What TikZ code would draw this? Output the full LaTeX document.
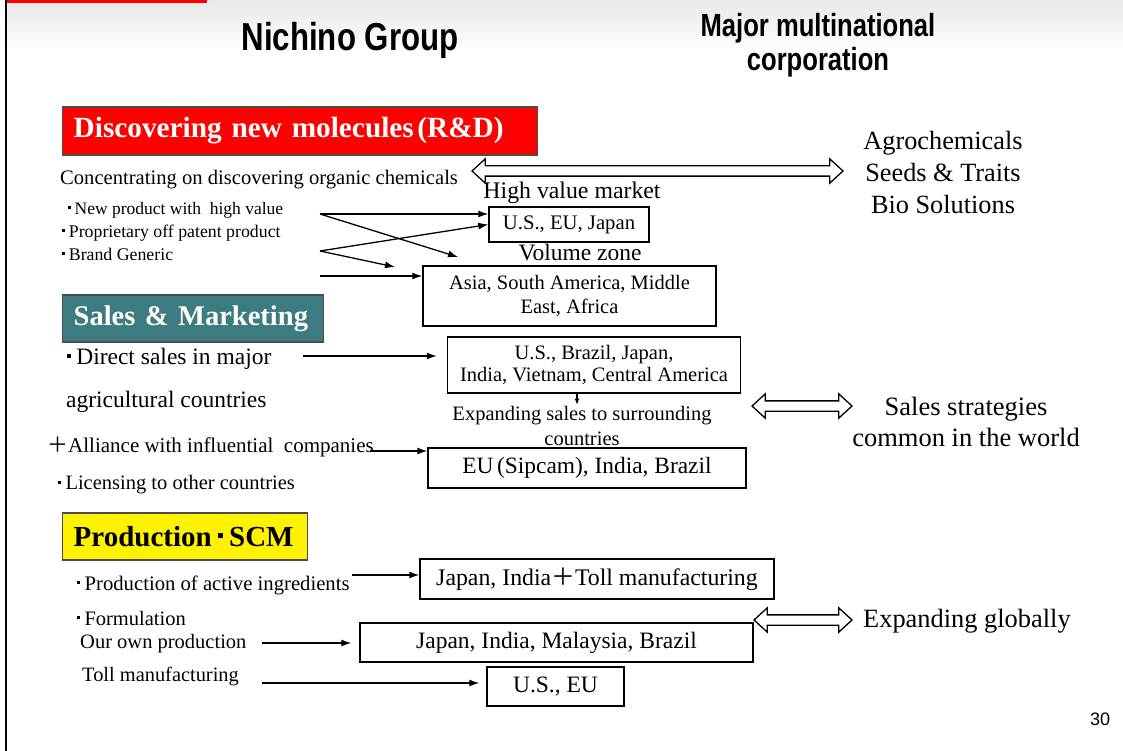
\documentclass[tikz,border=0pt]{standalone}
\usepackage{fontspec}
\setmainfont{Liberation Serif}
\newfontfamily\headfont[FakeStretch=0.8]{Liberation Sans}
\newfontfamily\pgnumfont{Liberation Sans}
\newfontfamily\cjk{Noto Sans CJK JP}
\usepackage{tikz}
\usetikzlibrary{arrows.meta, positioning, shapes.arrows}
\tikzset{>={Latex[length=10pt,width=7pt]}}

\definecolor{teal1}{RGB}{60,123,128}
\newcommand{\fsz}[2]{\fontsize{#1}{#2}\selectfont}
\newcommand{\ndot}{\makebox[0.6em]{\rule[0.28em]{0.17em}{0.17em}}}
\newcommand{\zplus}{{\cjk ＋}}

\tikzset{
  box/.style={draw, line width=1.4pt, inner sep=0pt, align=center},
  title/.style={draw=black!70, line width=1.4pt, anchor=west, inner xsep=11pt, align=left},
  lbl/.style={anchor=west, inner sep=0pt},
  conn/.style={->, line width=1.3pt},
  hollow/.style={double arrow, draw, fill=white, line width=1.3pt, inner xsep=0pt, inner ysep=4.5pt,
                 double arrow head extend=7pt, double arrow tip angle=85},
}

\begin{document}
\begin{tikzpicture}[x=1pt, y=-1pt]
    \useasboundingbox (0,0) rectangle (1123,751);
    % slide frame
    \shade[top color=black!9, bottom color=white] (7,0) rectangle (1123,50);
    \fill[red] (6,0) rectangle (207,3);
    \draw[line width=2pt] (6,0) -- (6,751);

    \node	(grp)	at	(350,40)	{\headfont\bfseries\fsz{39}{44}Nichino Group};
    \node	(mnc)	[align=center, font=\headfont\bfseries\fsz{32}{34}]	at	(818,45)	{Major multinational\\corporation};

    % R&D
    \node	(rd)	[title, fill=red, text=white, minimum height=48pt, text width=453pt, font=\bfseries\fsz{29.3}{34}]	at	(62,131)	{Discovering new molecules\hspace{0.12em}(R\&D)};
    \node	(conc)	[lbl, font=\fsz{20.6}{23}]	at	(60,180)	{Concentrating on discovering organic chemicals};
    \node	(nb1)	[lbl, font=\fsz{17.5}{20}]	at	(64,210)	{\ndot New product with\ \ high value};
    \node	(nb2)	[lbl, font=\fsz{17.8}{20}]	at	(58,233)	{\ndot Proprietary off patent product};
    \node	(nb3)	[lbl, font=\fsz{17.8}{20}]	at	(58,254)	{\ndot Brand Generic};
    \node	(high)	[font=\fsz{23.8}{26}]	at	(572,193)	{High value market};
    \node	(us)	[box, minimum width=160pt, minimum height=35pt, font=\fsz{20.7}{23}]	at	(569,224.5)	{U.S., EU, Japan};
    \node	(vol)	[font=\fsz{23.5}{26}]	at	(580,253)	{Volume zone};
    \node	(asia)	[box, minimum width=293pt, minimum height=60pt, font=\fsz{20.5}{24}]	at	(569.5,296)	{Asia, South America, Middle\\East, Africa};
    \node	(agro)	[align=center, font=\fsz{26.3}{32}]	at	(943,173)	{Agrochemicals\\Seeds \& Traits\\Bio Solutions};

    \coordinate (rdA) at (320,214);
    \coordinate (rdB) at (320,251);
    \coordinate (rdC) at (320,276);
    \coordinate (volA) at (458,257);
    \coordinate (volB) at (395,267);
    \draw[conn] (rdA) -- (rdA -| us.west);
    \draw[conn] (rdA) -- (volA);
    \draw[conn] (rdB) -- (us.west);
    \draw[conn] (rdB) -- (volB);
    \draw[conn] (rdC) -- (rdC -| asia.west);

    \node	(dA1)	[hollow, minimum height=371pt]	at	(657.5,171)	{};

    % Sales & Marketing
    \node	(sm)	[title, fill=teal1, text=white, minimum height=47pt, text width=239pt, font=\bfseries\fsz{28.5}{30}]	at	(62,318.5)	{Sales \& Marketing};
    \node	(ds1)	[lbl, font=\fsz{23.5}{26}]	at	(62,359)	{\ndot Direct sales in major};
    \node	(ds2)	[lbl, font=\fsz{23.5}{26}]	at	(66,402)	{agricultural countries};
    \node	(ally)	[lbl, font=\fsz{21}{23}]	at	(47,447)	{\zplus Alliance with influential\ \ companies};
    \node	(lic)	[lbl, font=\fsz{20.5}{23}]	at	(53,485)	{\ndot Licensing to other countries};
    \node	(dir)	[box, minimum width=293pt, minimum height=56pt, font=\fsz{20.5}{22}]	at	(594,365)	{U.S., Brazil, Japan,\\India, Vietnam, Central America};
    \node	(exps)	[align=center, font=\fsz{20.5}{25}]	at	(582,426)	{Expanding sales to surrounding\\countries};
    \node	(eu)	[box, minimum width=318pt, minimum height=40pt, font=\fsz{23.4}{26}]	at	(587,468)	{EU\hspace{0.15em}(Sipcam), India, Brazil};
    \node	(sstr)	[align=center, font=\fsz{26.5}{31}]	at	(966,422)	{Sales strategies\\common in the world};

    \coordinate (dsA) at (303,356);
    \coordinate (alA) at (370,451);
    \coordinate (dirX) at (577,0);
    \draw[conn, shorten >=10pt] (dsA) -- (dsA -| dir.west);
    \draw[conn] (alA) -- (alA -| eu.west);
    \draw[line width=1.2pt, -{Latex[length=6pt,width=5pt]}] (dir.south -| dirX) -- ++(0,11);

    \node	(dA2)	[hollow, minimum height=100pt]	at	(802,406)	{};

    % Production / SCM
    \node	(pr)	[title, fill=yellow, text=black, minimum height=47pt, text width=223pt, font=\bfseries\fsz{29}{30}]	at	(62,536.5)	{Production\ndot SCM};
    \node	(pai)	[lbl, font=\fsz{20.7}{23}]	at	(72,585)	{\ndot Production of active ingredients};
    \node	(form)	[lbl, font=\fsz{20.5}{23}]	at	(72,618)	{\ndot Formulation};
    \node	(own)	[lbl, font=\fsz{20.5}{23}]	at	(80,644)	{Our own production};
    \node	(toll)	[lbl, font=\fsz{20.4}{23}]	at	(82,677)	{Toll manufacturing};
    \node	(jpi)	[box, minimum width=354pt, minimum height=40pt, font=\fsz{23.8}{26}]	at	(597,579)	{Japan, India\zplus Toll manufacturing};
    \node	(jpm)	[box, minimum width=393pt, minimum height=39pt, font=\fsz{23.5}{26}]	at	(556.5,642.5)	{Japan, India, Malaysia, Brazil};
    \node	(usu)	[box, minimum width=137pt, minimum height=39pt, font=\fsz{23.5}{26}]	at	(555.5,686.5)	{U.S., EU};
    \node	(glob)	[lbl, font=\fsz{26.4}{28}]	at	(863,621)	{Expanding globally};

    \coordinate (paiA) at (352,575);
    \coordinate (ownA) at (262,643);
    \coordinate (tollA) at (262,683);
    \draw[conn] (paiA) -- (paiA -| jpi.west);
    \draw[conn, shorten >=8pt] (ownA) -- (ownA -| jpm.west);
    \draw[conn, shorten >=7pt] (tollA) -- (tollA -| usu.west);

    \node	(dA3)	[hollow, minimum height=98pt]	at	(803,620)	{};

    \node	(page)	[font=\pgnumfont\fsz{18}{20}]	at	(1100,719)	{30};
\end{tikzpicture}
\end{document}
